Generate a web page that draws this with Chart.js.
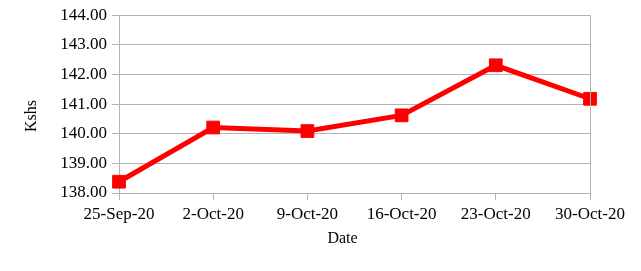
<!DOCTYPE html>
<html>
<head>
<meta charset="utf-8">
<script src="https://cdn.jsdelivr.net/npm/chart.js@4/dist/chart.umd.min.js"></script>
<style>
  html, body { margin: 0; padding: 0; background: #ffffff; }
  #wrap { width: 641px; height: 271px; position: relative; }
</style>
</head>
<body>
<div id="wrap"><canvas id="c" width="641" height="271"></canvas></div>
<script>
const categories = ["25-Sep-20", "2-Oct-20", "9-Oct-20", "16-Oct-20", "23-Oct-20", "30-Oct-20"];
const rates = [138.38, 140.21, 140.09, 140.62, 142.31, 141.18];
const yMin = 138, yMax = 144, yStep = 1;
const xTitle = "Date";
const yTitle = "Kshs";

const font = { family: "'Liberation Serif', 'DejaVu Serif', serif", size: 17 };
const titleFont = { family: font.family, size: 16 };
const gridColor = "#b3b3b3";
const pad = "\u2002\u2002\u2002";

new Chart(document.getElementById("c"), {
  type: "line",
  data: {
    labels: categories,
    datasets: [{
      data: rates,
      borderColor: "#ff0000",
      backgroundColor: "#ff0000",
      borderWidth: 5,
      pointStyle: "rect",
      pointRadius: 9,
      pointHoverRadius: 9,
      pointBorderWidth: 1,
      tension: 0,
      fill: false
    }]
  },
  options: {
    responsive: false,
    animation: false,
    devicePixelRatio: 1,
    layout: { padding: { top: 14, right: 51, left: 0, bottom: 0 } },
    plugins: { legend: { display: false }, tooltip: { enabled: false } },
    scales: {
      x: {
        offset: false,
        grid: { display: true, drawOnChartArea: false, color: gridColor, tickLength: 7, tickColor: gridColor },
        border: { display: true, color: gridColor },
        ticks: { font: font, color: "#000", padding: 4, maxRotation: 0, autoSkip: false },
        title: { display: true, text: xTitle + pad, font: titleFont, color: "#000", padding: { top: 0, bottom: 23 } },
        afterFit: s => { s.height = 78; }
      },
      y: {
        min: yMin, max: yMax,
        grid: { color: gridColor, tickLength: 7, tickColor: gridColor },
        border: { display: true, color: gridColor },
        ticks: { stepSize: yStep, font: font, color: "#000", padding: 5, callback: v => Number(v).toFixed(2) },
        title: { display: true, text: yTitle + pad, font: titleFont, color: "#000", padding: { top: 22, bottom: 0 } },
        afterFit: s => { s.width = 119; }
      }
    }
  },
  plugins: [{
    id: "rightBorder",
    afterDraw(chart) {
      const { ctx, chartArea } = chart;
      ctx.save();
      ctx.strokeStyle = gridColor;
      ctx.lineWidth = 1;
      ctx.beginPath();
      ctx.moveTo(Math.round(chartArea.right) + 0.5, chartArea.top);
      ctx.lineTo(Math.round(chartArea.right) + 0.5, chartArea.bottom + 7);
      ctx.stroke();
      ctx.restore();
    }
  }]
});
</script>
</body>
</html>
